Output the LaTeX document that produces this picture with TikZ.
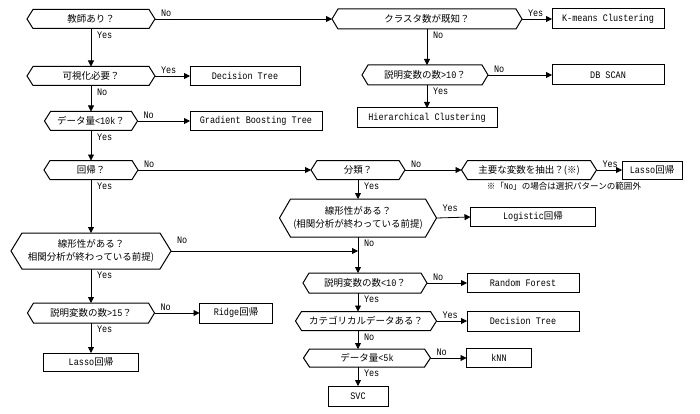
\documentclass[tikz,border=0pt]{standalone}
\usepackage{fontspec}
\setmainfont{Liberation Mono}[FakeStretch=0.85]
\newfontfamily\jp{Noto Sans CJK JP}[Scale=0.95]
\usetikzlibrary{arrows.meta}

\tikzset{
  base/.style={font=\fontsize{10}{13}\selectfont, inner sep=1pt, outer sep=0pt, align=center},
  box/.style={base, draw, line width=1pt, minimum height=19pt},
  hexa/.style={base, minimum height=19pt,
    append after command={\pgfextra{\draw[line width=1pt]
      ([xshift=#1]\tikzlastnode.north west) -- (\tikzlastnode.west)
      -- ([xshift=#1]\tikzlastnode.south west) -- ([xshift=-#1]\tikzlastnode.south east)
      -- (\tikzlastnode.east) -- ([xshift=-#1]\tikzlastnode.north east) -- cycle;}}},
  hexa/.default=6pt,
  flow/.style={-{Triangle[length=6pt,width=6pt]}, line width=0.8pt},
  hl/.style={base, at start, anchor=south west, xshift=5pt, yshift=1pt},
  vl/.style={base, at start, anchor=north west, xshift=5pt, yshift=-2pt}
}

\begin{document}
\begin{tikzpicture}[x=1pt, y=-1pt]
\useasboundingbox (0,0) rectangle (700,414);
\coordinate (col) at (358,0);

% left column
\node[hexa, minimum width=128pt] (teach) at (91,19) {\jp 教師あり？};
\node[hexa, minimum width=128pt] (visual) at (91,76) {\jp 可視化必要？};
\node[box, minimum width=110pt] (dtA) at (245,76) {Decision Tree};
\node[hexa, minimum width=93pt] (dataA) at (91,121) {{\jp データ量}<10k{\jp ？}};
\node[box, minimum width=132pt] (gbt) at (256,121) {Gradient Boosting Tree};
\node[hexa, minimum width=94pt] (reg) at (91,170) {\jp 回帰？};
\node[hexa=11pt, minimum width=160pt, minimum height=36pt] (linL) at (91,251)
  {\jp 線形性がある？\\\jp 相関分析が終わっている前提)};
\node[hexa, minimum width=127pt, minimum height=20pt] (numA) at (91,313) {{\jp 説明変数の数}>15{\jp ？}};
\node[box, minimum width=73pt, minimum height=20pt] (ridge) at (236,313) {Ridge{\jp 回帰}};
\node[box, minimum width=95pt, minimum height=18pt] (lassoA) at (91,362) {Lasso{\jp 回帰}};

% clustering
\node[hexa, minimum width=190pt, minimum height=20pt] (clus) at (427,19) {\jp クラスタ数が既知？};
\node[box, minimum width=112pt, minimum height=20pt] (kmeans) at (608,19) {K-means Clustering};
\node[hexa, minimum width=126pt, minimum height=20pt] (numB) at (425,75) {{\jp 説明変数の数}>10{\jp ？}};
\node[box, minimum width=112pt, minimum height=20pt] (dbscan) at (608,75) {DB SCAN};
\node[box, minimum width=140pt, minimum height=20pt] (hier) at (427,118) {Hierarchical Clustering};

% classification
\node[hexa, minimum width=94pt] (cls) at (358,170) {\jp 分類？};
\node[hexa, minimum width=135pt] (major) at (529,170) {\jp 主要な変数を抽出？(※)};
\node[box, minimum width=60pt, minimum height=18pt] (lassoB) at (652,170) {Lasso{\jp 回帰}};
\node[base, font=\fontsize{9}{11}\selectfont] (note) at (564,186)
  {{\jp ※「}No{\jp 」の場合は選択パターンの範囲外}};
\node[hexa=11pt, minimum width=157pt, minimum height=38pt] (linR) at (358,218)
  {\jp 線形性がある？\\\jp (相関分析が終わっている前提)};
\node[box, minimum width=125pt] (logi) at (533,217) {Logistic{\jp 回帰}};
\node[hexa, minimum width=124pt, minimum height=20pt] (numC) at (365,283) {{\jp 説明変数の数}<10{\jp ？}};
\node[box, minimum width=112pt] (rf) at (523,283) {Random Forest};
\node[hexa, minimum width=141pt] (cat) at (366,321) {\jp カテゴリカルデータある？};
\node[box, minimum width=112pt, minimum height=20pt] (dtB) at (523,321) {Decision Tree};
\node[hexa, minimum width=127pt, minimum height=18pt] (dataB) at (367,358) {{\jp データ量}<5k};
\node[box, minimum width=65pt] (knn) at (499,358) {kNN};
\node[box, minimum width=60pt, minimum height=20pt] (svc) at (358,396) {SVC};

% connectors
\draw[flow] (teach.east) -- node[hl] {No} (clus.west);
\draw[flow] (teach.south) -- node[vl] {Yes} (visual.north);
\draw[flow] (visual.east) -- node[hl] {Yes} (dtA.west);
\draw[flow] (visual.south) -- node[vl] {No} (dataA.north);
\draw[flow] (dataA.east) -- node[hl] {No} (gbt.west);
\draw[flow] (dataA.south) -- node[vl] {Yes} (reg.north);
\draw[flow] (reg.east) -- node[hl] {No} (cls.west);
\draw[flow] (reg.south) -- node[vl] {Yes} (linL.north);
\draw[flow] (linL.east) -- node[hl, yshift=5pt] {No} (linL.east -| col);
\draw[flow] (linL.south) -- node[vl] {Yes} (numA.north);
\draw[flow] (numA.east) -- node[hl] {No} (ridge.west);
\draw[flow] (numA.south) -- node[vl] {Yes} (lassoA.north);

\draw[flow] (clus.east) -- node[hl] {Yes} (kmeans.west);
\draw[flow] (clus.south) -- node[vl] {No} (numB.north -| clus.south);
\draw[flow] (numB.east) -- node[hl] {No} (dbscan.west);
\draw[flow] (numB.south -| clus.south) -- node[vl] {Yes} (hier.north);

\draw[flow] (cls.east) -- node[hl] {No} (major.west);
\draw[flow] (major.east) -- node[hl] {Yes} (lassoB.west);
\draw[flow] (cls.south) -- node[vl] {Yes} (linR.north);
\draw[flow] (linR.east) -- node[hl, yshift=4pt] {Yes} (logi.west);
\draw[flow] (linR.south) -- node[vl] {No} (numC.north -| col);
\draw[flow] (numC.east) -- node[hl] {No} (rf.west);
\draw[flow] (numC.south -| col) -- node[vl] {Yes} (cat.north -| col);
\draw[flow] (cat.east) -- node[hl] {Yes} (dtB.west);
\draw[flow] (cat.south -| col) -- node[vl] {No} (dataB.north -| col);
\draw[flow] (dataB.east) -- node[hl] {No} (knn.west);
\draw[flow] (dataB.south -| col) -- node[vl] {Yes} (svc.north);
\end{tikzpicture}
\end{document}
